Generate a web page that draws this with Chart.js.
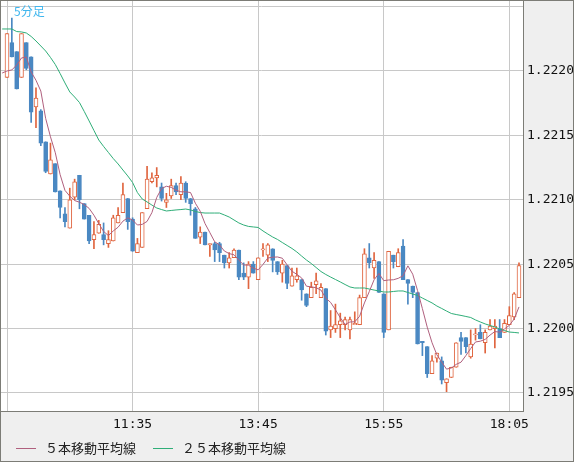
<!DOCTYPE html>
<html>
<head>
<meta charset="UTF-8">
<title>5分足</title>
<script src="https://cdn.jsdelivr.net/npm/chart.js@4.4.0/dist/chart.umd.min.js"></script>
<style>
  body { margin: 0; padding: 0; background: #efefef; }
  canvas { display: block; }
</style>
</head>
<body>
<canvas id="chart" width="574" height="462"></canvas>
<script>
// 足の種類と軸ラベル
const timeFrame = '5分足';
const xTickIndex = [0, 26, 52, 78, 104];
const xTickText = ['', '11:35', '13:45', '15:55', '18:05'];
const yTicks = [1.2195, 1.2200, 1.2205, 1.2210, 1.2215, 1.2220, 1.2225];
const seriesNames = ['５本移動平均線', '２５本移動平均線'];

// ローソク足 (09:25 から 5分ごと)
const open = [
  1.22195, 1.22222, 1.22215, 1.22195, 1.22222, 1.22211, 1.22172, 1.22169, 1.22145, 1.22120,
  1.22128, 1.22107, 1.22089, 1.22078, 1.22102, 1.22119, 1.22097, 1.22088, 1.22069, 1.22074,
  1.22073, 1.22066, 1.22068, 1.22082, 1.22090, 1.22101, 1.22085, 1.22059, 1.22063, 1.22093,
  1.22114, 1.22117, 1.22110, 1.22098, 1.22103, 1.22111, 1.22104, 1.22113, 1.22101, 1.22093,
  1.22071, 1.22075, 1.22065, 1.22066, 1.22066, 1.22057, 1.22051, 1.22055, 1.22061, 1.22043,
  1.22040, 1.22050, 1.22038, 1.22061, 1.22057, 1.22062, 1.22052, 1.22043, 1.22049, 1.22033,
  1.22038, 1.22038, 1.22027, 1.22024, 1.22034, 1.22024, 1.22031, 1.21999, 1.22000, 1.22003,
  1.22003, 1.21999, 1.22003, 1.22003, 1.22024, 1.22055, 1.22047, 1.22052, 1.22027, 1.21999,
  1.22057, 1.22048, 1.22064, 1.22038, 1.22033, 1.22028, 1.21990, 1.21986, 1.21965, 1.21977,
  1.21975, 1.21958, 1.21962, 1.21970, 1.21993, 1.21993, 1.21978, 1.21995, 1.21997, 1.21989,
  1.21999, 1.22000, 1.22000, 1.21997, 1.22003, 1.22009, 1.22024
];
const high = [
  1.22229, 1.22241, 1.22215, 1.22229, 1.22222, 1.22211, 1.22187, 1.22170, 1.22145, 1.22144,
  1.22128, 1.22107, 1.22094, 1.22109, 1.22116, 1.22119, 1.22097, 1.22088, 1.22083, 1.22084,
  1.22082, 1.22076, 1.22088, 1.22094, 1.22113, 1.22101, 1.22086, 1.22070, 1.22090, 1.22126,
  1.22121, 1.22125, 1.22113, 1.22105, 1.22116, 1.22113, 1.22118, 1.22114, 1.22101, 1.22094,
  1.22079, 1.22075, 1.22066, 1.22067, 1.22067, 1.22057, 1.22059, 1.22062, 1.22061, 1.22051,
  1.22052, 1.22052, 1.22055, 1.22066, 1.22066, 1.22062, 1.22052, 1.22053, 1.22049, 1.22047,
  1.22047, 1.22038, 1.22027, 1.22036, 1.22043, 1.22035, 1.22031, 1.22014, 1.22019, 1.22012,
  1.22009, 1.22009, 1.22013, 1.22026, 1.22062, 1.22066, 1.22059, 1.22052, 1.22027, 1.22060,
  1.22057, 1.22062, 1.22069, 1.22038, 1.22033, 1.22028, 1.21990, 1.21986, 1.21979, 1.21981,
  1.21978, 1.21961, 1.21970, 1.21989, 1.21997, 1.21993, 1.21999, 1.22000, 1.22003, 1.21999,
  1.22007, 1.22007, 1.22007, 1.22007, 1.22017, 1.22028, 1.22051
];
const low = [
  1.22195, 1.22211, 1.22186, 1.22195, 1.22201, 1.22160, 1.22156, 1.22142, 1.22121, 1.22120,
  1.22106, 1.22086, 1.22079, 1.22078, 1.22100, 1.22093, 1.22085, 1.22066, 1.22062, 1.22074,
  1.22065, 1.22063, 1.22068, 1.22082, 1.22090, 1.22077, 1.22060, 1.22059, 1.22063, 1.22093,
  1.22113, 1.22110, 1.22099, 1.22094, 1.22101, 1.22104, 1.22100, 1.22098, 1.22088, 1.22070,
  1.22066, 1.22065, 1.22056, 1.22052, 1.22052, 1.22047, 1.22047, 1.22055, 1.22038, 1.22038,
  1.22031, 1.22043, 1.22038, 1.22056, 1.22052, 1.22044, 1.22042, 1.22036, 1.22031, 1.22033,
  1.22036, 1.22022, 1.22017, 1.22024, 1.22027, 1.22024, 1.21995, 1.21993, 1.21997, 1.21993,
  1.21999, 1.21992, 1.22003, 1.22003, 1.22024, 1.22047, 1.22039, 1.22028, 1.21993, 1.21999,
  1.22047, 1.22048, 1.22038, 1.22019, 1.22024, 1.21988, 1.21979, 1.21962, 1.21965, 1.21974,
  1.21957, 1.21951, 1.21962, 1.21970, 1.21980, 1.21981, 1.21977, 1.21991, 1.21992, 1.21981,
  1.21999, 1.21985, 1.21993, 1.21997, 1.22003, 1.22007, 1.22024
];
const close = [
  1.22229, 1.22211, 1.22186, 1.22229, 1.22202, 1.22168, 1.22179, 1.22144, 1.22122, 1.22131,
  1.22106, 1.22094, 1.22083, 1.22100, 1.22114, 1.22100, 1.22085, 1.22068, 1.22073, 1.22081,
  1.22069, 1.22069, 1.22086, 1.22088, 1.22104, 1.22083, 1.22060, 1.22066, 1.22090, 1.22116,
  1.22117, 1.22119, 1.22101, 1.22100, 1.22111, 1.22106, 1.22113, 1.22101, 1.22097, 1.22070,
  1.22075, 1.22065, 1.22066, 1.22061, 1.22059, 1.22051, 1.22055, 1.22061, 1.22040, 1.22040,
  1.22050, 1.22043, 1.22055, 1.22062, 1.22065, 1.22053, 1.22044, 1.22050, 1.22035, 1.22041,
  1.22041, 1.22030, 1.22018, 1.22032, 1.22037, 1.22032, 1.21998, 1.22002, 1.22003, 1.22006,
  1.22007, 1.22007, 1.22004, 1.22024, 1.22058, 1.22051, 1.22053, 1.22028, 1.21997, 1.22060,
  1.22052, 1.22059, 1.22038, 1.22035, 1.22028, 1.21988, 1.21989, 1.21965, 1.21975, 1.21981,
  1.21960, 1.21961, 1.21970, 1.21989, 1.21990, 1.21986, 1.21988, 1.21996, 1.21992, 1.21997,
  1.22002, 1.22002, 1.21993, 1.22004, 1.22010, 1.22027, 1.22049
];

// 移動平均 (先頭は 09:20 の値)
const ma5 = [
  1.221984,
  1.222000, 1.222008, 1.222046, 1.222101, 1.222108, 1.221992, 1.221928, 1.221844, 1.221632, 1.221489,
  1.221365, 1.221195, 1.221073, 1.221028, 1.220994, 1.220981, 1.220963, 1.220933, 1.220880, 1.220815,
  1.220754, 1.220722, 1.220758, 1.220787, 1.220834, 1.220860, 1.220843, 1.220804, 1.220809, 1.220832,
  1.220900, 1.221018, 1.221087, 1.221105, 1.221096, 1.221074, 1.221062, 1.221062, 1.221056, 1.220973,
  1.220911, 1.220815, 1.220745, 1.220674, 1.220650, 1.220602, 1.220582, 1.220573, 1.220531, 1.220494,
  1.220492, 1.220469, 1.220456, 1.220498, 1.220548, 1.220554, 1.220556, 1.220546, 1.220494, 1.220445,
  1.220421, 1.220393, 1.220329, 1.220324, 1.220317, 1.220299, 1.220236, 1.220203, 1.220146, 1.220084,
  1.220032, 1.220051, 1.220053, 1.220095, 1.220199, 1.220287, 1.220379, 1.220428, 1.220372, 1.220377,
  1.220379, 1.220390, 1.220410, 1.220487, 1.220422, 1.220295, 1.220155, 1.220011, 1.219890, 1.219796,
  1.219740, 1.219685, 1.219694, 1.219722, 1.219739, 1.219790, 1.219845, 1.219896, 1.219902, 1.219916,
  1.219949, 1.219977, 1.219972, 1.219997, 1.220025, 1.220074, 1.220168
];
const ma25 = [
  1.222326,
  1.222326, 1.222326, 1.222306, 1.222303, 1.222295, 1.222268, 1.222233, 1.222194, 1.222155, 1.222105,
  1.222050, 1.221980, 1.221907, 1.221837, 1.221798, 1.221755, 1.221685, 1.221612, 1.221538, 1.221464,
  1.221414, 1.221367, 1.221320, 1.221278, 1.221231, 1.221185, 1.221134, 1.221056, 1.221006, 1.220983,
  1.220959, 1.220936, 1.220924, 1.220913, 1.220917, 1.220921, 1.220924, 1.220928, 1.220921, 1.220909,
  1.220901, 1.220897, 1.220897, 1.220897, 1.220897, 1.220882, 1.220866, 1.220843, 1.220820, 1.220804,
  1.220793, 1.220789, 1.220785, 1.220758, 1.220734, 1.220711, 1.220692, 1.220668, 1.220645, 1.220622,
  1.220595, 1.220563, 1.220532, 1.220505, 1.220474, 1.220443, 1.220420, 1.220400, 1.220381, 1.220362,
  1.220342, 1.220323, 1.220315, 1.220315, 1.220315, 1.220307, 1.220299, 1.220292, 1.220284, 1.220284,
  1.220288, 1.220292, 1.220292, 1.220280, 1.220268, 1.220257, 1.220237, 1.220218, 1.220199, 1.220175,
  1.220156, 1.220136, 1.220117, 1.220109, 1.220102, 1.220094, 1.220086, 1.220067, 1.220051, 1.220036,
  1.220024, 1.220012, 1.219997, 1.219985, 1.219973, 1.219970, 1.219966
];

const UP = '#e0653f';
const DOWN = '#4a88c2';
const isUp = open.map((o, i) => close[i] >= o);

// 背景・枠・見出し・凡例
const framePlugin = {
  id: 'frame',
  beforeDraw(chart) {
    const { ctx, chartArea: a, width, height } = chart;
    ctx.save();
    ctx.fillStyle = '#efefef';
    ctx.fillRect(0, 0, width, height);
    ctx.fillStyle = '#ffffff';
    ctx.fillRect(a.left, a.top, a.right - a.left, a.bottom - a.top);
    ctx.restore();
  },
  afterDraw(chart) {
    const { ctx, width, height } = chart;
    ctx.save();
    ctx.strokeStyle = '#7c7c76';
    ctx.lineWidth = 1;
    ctx.strokeRect(0.5, 0.5, width - 1, height - 1);

    ctx.fillStyle = '#3fb6ee';
    ctx.font = '12px "Noto Sans CJK JP"';
    ctx.textBaseline = 'middle';
    ctx.fillText(timeFrame, 14, 11);

    const lines = chart.data.datasets.filter(d => d.type === 'line');
    const xs = [16, 153];
    ctx.font = '13px "Noto Sans CJK JP"';
    lines.forEach((d, k) => {
      const x = xs[k], y = 448.5;
      ctx.strokeStyle = d.borderColor;
      ctx.beginPath();
      ctx.moveTo(x, y);
      ctx.lineTo(x + 20, y);
      ctx.stroke();
      ctx.fillStyle = '#222';
      ctx.fillText(d.label, x + 29, y);
    });
    ctx.restore();
  }
};

// 軸ラベルの余白をなくして描画領域を枠いっぱいに
const noPad = s => {
  s.paddingTop = 0;
  s.paddingBottom = 0;
  s.paddingLeft = 0;
  s.paddingRight = 0;
};

new Chart(document.getElementById('chart'), {
  data: {
    datasets: [
      {
        type: 'line',
        label: seriesNames[0],
        data: ma5.map((v, k) => ({ x: k - 1, y: v })),
        borderColor: '#b0607e',
        borderWidth: 1,
        pointRadius: 0,
        order: 0
      },
      {
        type: 'line',
        label: seriesNames[1],
        data: ma25.map((v, k) => ({ x: k - 1, y: v })),
        borderColor: '#2fae78',
        borderWidth: 1,
        pointRadius: 0,
        order: 0
      },
      {
        type: 'bar',
        label: 'body',
        data: open.map((o, i) => ({ x: i, y: [o, close[i]] })),
        backgroundColor: isUp.map(u => u ? '#ffffff' : DOWN),
        borderColor: isUp.map(u => u ? UP : DOWN),
        borderWidth: 1,
        borderSkipped: false,
        barThickness: 4,
        grouped: false,
        order: 1
      },
      {
        type: 'bar',
        label: 'wick',
        data: low.map((l, i) => ({ x: i, y: [l, high[i]] })),
        backgroundColor: isUp.map(u => u ? UP : DOWN),
        borderWidth: 0,
        barThickness: 1,
        grouped: false,
        order: 2
      }
    ]
  },
  options: {
    responsive: false,
    animation: false,
    layout: { padding: 0 },
    plugins: {
      legend: { display: false },
      tooltip: { enabled: false }
    },
    scales: {
      x: {
        type: 'linear',
        min: -1.45,
        max: 106.83,
        offset: false,
        grid: { color: '#c8c8c8', drawTicks: false, offset: false },
        border: { color: '#7c7c76' },
        afterBuildTicks: s => { s.ticks = xTickIndex.map(v => ({ value: v })); },
        afterFit: s => { s.height = 51; noPad(s); },
        ticks: {
          padding: 6,
          color: '#111',
          maxRotation: 0,
          autoSkip: false,
          font: { family: 'DejaVu Sans Mono', size: 13 },
          callback: (v, i) => xTickText[i]
        }
      },
      y: {
        type: 'linear',
        position: 'right',
        min: 1.21936,
        max: 1.222551,
        grid: { color: '#c8c8c8', drawTicks: false },
        border: { color: '#7c7c76' },
        afterBuildTicks: s => { s.ticks = yTicks.map(v => ({ value: v })); },
        afterFit: s => { s.width = 51; noPad(s); },
        ticks: {
          padding: 4,
          color: '#111',
          font: { family: 'DejaVu Sans Mono', size: 13 },
          callback: v => (v > 1.2222 ? '' : v.toFixed(4))
        }
      }
    }
  },
  plugins: [framePlugin]
});
</script>
</body>
</html>
